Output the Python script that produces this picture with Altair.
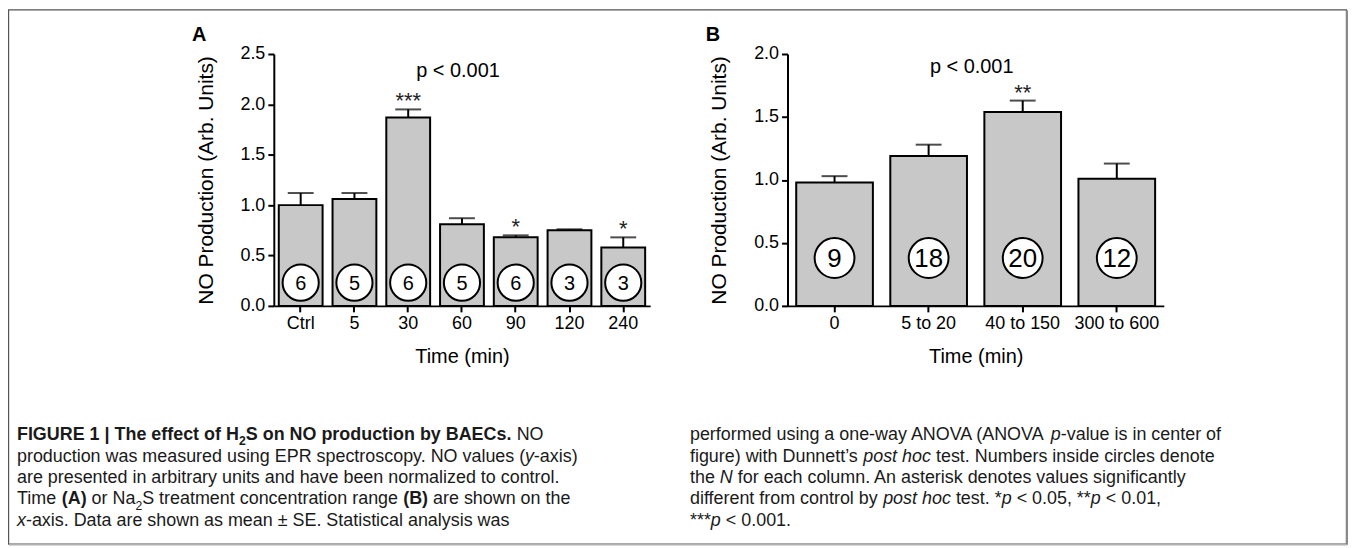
import altair as alt
import pandas as pd

# ---------------- data ----------------
a_cats = ["Ctrl", "5", "30", "60", "90", "120", "240"]
a_mean = [1.00, 1.06, 1.87, 0.81, 0.68, 0.75, 0.58]
a_se = [0.12, 0.06, 0.08, 0.06, 0.02, 0.01, 0.10]
a_n = ["6", "5", "6", "5", "6", "3", "3"]
a_sig = ["", "", "***", "", "*", "", "*"]

b_cats = ["0", "5 to 20", "40 to 150", "300 to 600"]
b_mean = [0.98, 1.19, 1.54, 1.01]
b_se = [0.05, 0.09, 0.09, 0.12]
b_n = ["9", "18", "20", "12"]
b_sig = ["", "", "**", ""]

a_ticks = [0.0, 0.5, 1.0, 1.5, 2.0, 2.5]
b_ticks = [0.0, 0.5, 1.0, 1.5, 2.0]

caption_left = [
    [("FIGURE 1 | The effect of H", "b"), ("2", "bs"), ("S on NO production by BAECs.", "b"), (" NO", "r")],
    [("production was measured using EPR spectroscopy. NO values (", "r"), ("y", "i"), ("-axis)", "r")],
    [("are presented in arbitrary units and have been normalized to control.", "r")],
    [("Time ", "r"), ("(A)", "b"), (" or Na", "r"), ("2", "rs"), ("S treatment concentration range ", "r"),
     ("(B)", "b"), (" are shown on the", "r")],
    [("x", "i"), ("-axis. Data are shown as mean \u00b1 SE. Statistical analysis was", "r")],
]
caption_right = [
    [("performed using a one-way ANOVA (ANOVA ", "r"), ("p", "i"), ("-value is in center of", "r")],
    [("figure) with Dunnett\u2019s ", "r"), ("post hoc", "i"), (" test. Numbers inside circles denote", "r")],
    [("the ", "r"), ("N", "i"), (" for each column. An asterisk denotes values significantly", "r")],
    [("different from control by ", "r"), ("post hoc", "i"), (" test. *", "r"), ("p", "i"),
     (" < 0.05, **", "r"), ("p", "i"), (" < 0.01,", "r")],
    [("***", "r"), ("p", "i"), (" < 0.001.", "r")],
]

FONT = "Liberation Sans, Arial, Helvetica, sans-serif"

# ---------------- layout (page pixels) ----------------
W, H = 378, 253
OX, OY = 275, 53          # plot origin of panel A on the page
CAP_FS = 18
CAP_TOP = 441
CAP_LH = 21.5
LEFT_X0, RIGHT_X0 = 17, 693

# Arial / Liberation Sans advance widths (1/1000 em)
REG = {' ': 278, '!': 278, '"': 355, '#': 556, '$': 556, '%': 889, '&': 667, "'": 191, '(': 333, ')': 333,
       '*': 389, '+': 584, ',': 278, '-': 333, '.': 278, '/': 278, ':': 278, ';': 278, '<': 584, '=': 584,
       '>': 584, '?': 556, '@': 1015, 'A': 667, 'B': 667, 'C': 722, 'D': 722, 'E': 667, 'F': 611, 'G': 778,
       'H': 722, 'I': 278, 'J': 500, 'K': 667, 'L': 556, 'M': 833, 'N': 722, 'O': 778, 'P': 667, 'Q': 778,
       'R': 722, 'S': 667, 'T': 611, 'U': 722, 'V': 667, 'W': 944, 'X': 667, 'Y': 667, 'Z': 611,
       'a': 556, 'b': 556, 'c': 500, 'd': 556, 'e': 556, 'f': 278, 'g': 556, 'h': 556, 'i': 222, 'j': 222,
       'k': 500, 'l': 222, 'm': 833, 'n': 556, 'o': 556, 'p': 556, 'q': 556, 'r': 333, 's': 500, 't': 278,
       'u': 556, 'v': 500, 'w': 722, 'x': 500, 'y': 500, 'z': 500, '|': 260, '\u00b1': 584, '\u2019': 222}
for d in "0123456789":
    REG[d] = 556
BOLD = {' ': 278, '(': 333, ')': 333, '.': 278, '|': 280, 'A': 722, 'B': 722, 'C': 722, 'E': 667, 'F': 611,
        'G': 778, 'H': 722, 'I': 278, 'N': 722, 'O': 778, 'R': 722, 'S': 667, 'T': 611, 'U': 722,
        'b': 611, 'c': 556, 'd': 611, 'e': 556, 'f': 333, 'h': 611, 'i': 278, 'n': 611, 'o': 611,
        'p': 611, 'r': 389, 's': 556, 't': 333, 'u': 611, 'y': 556}
for d in "0123456789":
    BOLD[d] = 556
KERN = {"AV": -74, "VA": -74, "Te": -111, "To": -111, "Ty": -74, "y.": -111, "r.": -111,
        "y,": -111, "r,": -111, "w.": -55, "v.": -111}


def seg_size(style):
    return CAP_FS * 0.68 if "s" in style else CAP_FS


def seg_width(text, style):
    table = BOLD if "b" in style else REG
    total = sum(table.get(c, 556) for c in text)
    total += sum(KERN.get(text[k:k + 2], 0) for k in range(len(text) - 1))
    return total / 1000.0 * seg_size(style)


one = pd.DataFrame({"k": [0]})


def caption_layers(lines, x0):
    layers = []
    for i, line in enumerate(lines):
        base_y = CAP_TOP + i * CAP_LH
        cur = x0
        for text, style in line:
            stripped = text.lstrip()
            lead = seg_width(text[: len(text) - len(stripped)], style)
            shown = stripped.rstrip()
            if shown:
                dy = CAP_FS * 0.28 if "s" in style else 0
                layers.append(
                    alt.Chart(one).mark_text(
                        text=shown, font=FONT, fontSize=seg_size(style),
                        fontWeight="bold" if "b" in style else "normal",
                        fontStyle="italic" if "i" in style else "normal",
                        align="left", baseline="alphabetic", color="#1a1a1a",
                    ).encode(x=alt.value(cur + lead - OX), y=alt.value(base_y + dy - OY))
                )
            cur += seg_width(text, style)
    return layers


def panel(cats, mean, se, n, sig, ymax, ticks, circle_y, circle_size, n_font, letter, extra):
    df = pd.DataFrame({"cat": cats, "mean": mean, "se": se, "n": n, "sig": sig})
    df["upper"] = df["mean"] + df["se"]
    base = alt.Chart(df)
    xaxis = alt.Axis(title="Time (min)", labelAngle=0, grid=False, domainColor="black", domainWidth=2,
                     tickColor="black", tickWidth=2, tickSize=6, labelFont=FONT, labelFontSize=18,
                     labelColor="black", labelPadding=3, titleFont=FONT, titleFontSize=20,
                     titleFontWeight="normal", titleColor="black", titlePadding=14)
    yaxis = alt.Axis(title="NO Production (Arb. Units)", values=ticks, format=".1f", grid=False,
                     domainColor="black", domainWidth=2, tickColor="black", tickWidth=2, tickSize=6,
                     labelFont=FONT, labelFontSize=18, labelColor="black", labelPadding=3,
                     titleFont=FONT, titleFontSize=21, titleFontWeight="normal", titleColor="black",
                     titlePadding=24)
    xs = alt.Scale(paddingInner=0.185, paddingOuter=0.0925)
    ys = alt.Scale(domain=[0, ymax], nice=False, zero=True)
    X = alt.X("cat:N", sort=cats, scale=xs, axis=xaxis)
    bars = base.mark_bar(fill="#c8c8c8", stroke="black", strokeWidth=2).encode(
        x=X, y=alt.Y("mean:Q", scale=ys, axis=yaxis))
    err = base.mark_rule(color="black", strokeWidth=2).encode(
        x=X, y=alt.Y("mean:Q", scale=ys, axis=yaxis), y2="upper:Q")
    cap = base.mark_tick(color="black", thickness=2, size=26, orient="horizontal").encode(
        x=X, y=alt.Y("upper:Q", scale=ys, axis=yaxis))
    circ = base.mark_point(shape="circle", filled=True, fill="white", stroke="black", strokeWidth=2,
                           size=circle_size, opacity=1).encode(x=X, y=alt.datum(circle_y))
    ntext = base.mark_text(font=FONT, fontSize=n_font, color="black", baseline="middle", dy=1).encode(
        x=X, y=alt.datum(circle_y), text="n:N")
    star = base.mark_text(font=FONT, fontSize=22, color="#222222", baseline="alphabetic", dy=-1).encode(
        x=X, y=alt.Y("upper:Q", scale=ys, axis=yaxis), text="sig:N")
    ptext = alt.Chart(one).mark_text(text="p < 0.001", font=FONT, fontSize=20, color="black",
                                     baseline="middle", align="center").encode(
        x=alt.value(185), y=alt.value(extra["p_y"]))
    lab = alt.Chart(one).mark_text(text=letter, font=FONT, fontSize=20, fontWeight="bold", color="black",
                                   baseline="middle", align="center").encode(
        x=alt.value(-75), y=alt.value(-19))
    layers = extra.get("pre", []) + [bars, err, cap, circ, ntext, star, ptext, lab] + extra.get("post", [])
    return alt.layer(*layers).properties(width=W, height=H)


border = alt.Chart(one).mark_rect(fill="white", fillOpacity=0, stroke="#555555", strokeWidth=1.2).encode(
    x=alt.value(8.6 - OX), x2=alt.value(1352.4 - OX), y=alt.value(8.6 - OY), y2=alt.value(545.4 - OY))
shadow_r = alt.Chart(one).mark_rule(color="#8a8a8a", strokeWidth=2).encode(
    x=alt.value(1353 - OX), y=alt.value(9 - OY), y2=alt.value(546 - OY))
shadow_b = alt.Chart(one).mark_rule(color="#b0b0b0", strokeWidth=1.5).encode(
    x=alt.value(9 - OX), x2=alt.value(1353 - OX), y=alt.value(546 - OY))

caps = caption_layers(caption_left, LEFT_X0) + caption_layers(caption_right, RIGHT_X0)

A = panel(a_cats, a_mean, a_se, a_n, a_sig, 2.5, a_ticks, 0.23, 1320, 20, "A",
          {"p_y": 17, "pre": [border, shadow_r, shadow_b], "post": caps})
B = panel(b_cats, b_mean, b_se, b_n, b_sig, 2.0, b_ticks, 0.38, 1600, 26, "B",
          {"p_y": 13})

chart = alt.hconcat(A, B, spacing=138, bounds="flush", padding=0).configure_view(stroke=None)

chart.save("out.html", embed_options={"renderer": "svg", "actions": False})
